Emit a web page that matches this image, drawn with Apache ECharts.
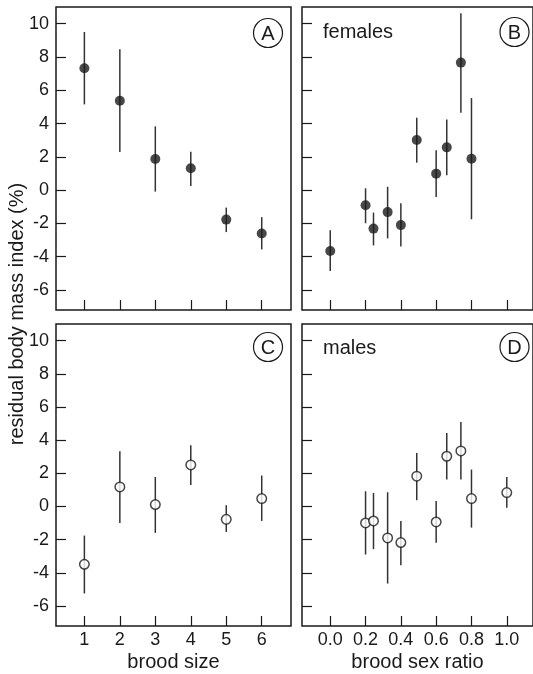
<!DOCTYPE html>
<html>
<head>
<meta charset="utf-8">
<script src="https://cdn.jsdelivr.net/npm/echarts@6/dist/echarts.min.js"></script>
<style>
html,body{margin:0;padding:0;background:#fff;}
#chart{width:533px;height:674px;}
</style>
</head>
<body>
<div id="chart"></div>
<script>
// ---- data ----
const yTicks = [-6, -4, -2, 0, 2, 4, 6, 8, 10];
const broodSizeTicks = [1, 2, 3, 4, 5, 6];
const sexRatioTicks = [0.0, 0.2, 0.4, 0.6, 0.8, 1.0];

const broodSize = [1, 2, 3, 4, 5, 6];
const sizeFemMean = [7.32, 5.37, 1.87, 1.31, -1.77, -2.61];
const sizeFemLo   = [5.15, 2.29, -0.09, 0.25, -2.52, -3.56];
const sizeFemHi   = [9.5, 8.46, 3.83, 2.31, -1.05, -1.62];

const ratioFemX    = [0.0, 0.2, 0.245, 0.325, 0.4, 0.49, 0.6, 0.66, 0.74, 0.8];
const ratioFemMean = [-3.66, -0.91, -2.31, -1.32, -2.1, 3.01, 0.99, 2.57, 7.66, 1.89];
const ratioFemLo   = [-4.86, -1.99, -3.32, -2.9, -3.39, 1.65, -0.41, 0.89, 4.65, -1.75];
const ratioFemHi   = [-2.41, 0.11, -1.35, 0.2, -0.79, 4.35, 2.39, 4.25, 10.62, 5.53];

const sizeMaleMean = [-3.48, 1.18, 0.12, 2.51, -0.77, 0.48];
const sizeMaleLo   = [-5.24, -0.99, -1.59, 1.3, -1.53, -0.87];
const sizeMaleHi   = [-1.75, 3.33, 1.78, 3.69, 0.08, 1.87];

const ratioMaleX    = [0.2, 0.245, 0.325, 0.4, 0.49, 0.6, 0.66, 0.74, 0.8, 1.0];
const ratioMaleMean = [-0.99, -0.87, -1.89, -2.17, 1.83, -0.93, 3.03, 3.35, 0.48, 0.84];
const ratioMaleLo   = [-2.89, -2.57, -4.64, -3.54, 0.38, -2.18, 1.63, 1.63, -1.27, -0.08];
const ratioMaleHi   = [0.92, 0.82, 0.86, -0.87, 3.23, 0.34, 4.43, 5.1, 2.23, 1.78];

// ---- styling ----
const FONT = '"Liberation Sans", Arial, Helvetica, sans-serif';
const INK = '#1a1a1a';

const grids = [
  {left: 56, top: 7, width: 235, height: 303},
  {left: 302, top: 7, width: 232, height: 303},
  {left: 56, top: 324, width: 235, height: 302},
  {left: 302, top: 324, width: 232, height: 302}
].map(g => Object.assign(g, {show: true, borderColor: INK, borderWidth: 1.5, backgroundColor: 'transparent'}));

function xAxis(gi, min, max, ticks, showLabel, name, fmt) {
  return {
    type: 'value', gridIndex: gi, min: min, max: max, position: 'bottom',
    axisLine: {show: false, onZero: false},
    splitLine: {show: false},
    axisTick: {show: true, inside: true, length: 10, customValues: ticks, lineStyle: {color: INK, width: 1.2}},
    axisLabel: {show: showLabel, customValues: ticks, margin: 5, color: INK, fontSize: 18, fontFamily: FONT,
      formatter: fmt},
    name: name, nameLocation: 'middle', nameGap: 26,
    nameTextStyle: {color: INK, fontSize: 20, fontFamily: FONT}
  };
}
function yAxis(gi, showLabel) {
  return {
    type: 'value', gridIndex: gi, min: -7.2, max: 11, position: 'left',
    axisLine: {show: false, onZero: false},
    splitLine: {show: false},
    axisTick: {show: true, inside: true, length: 10, customValues: yTicks, lineStyle: {color: INK, width: 1.2}},
    axisLabel: {show: showLabel, customValues: yTicks, margin: 7, color: INK, fontSize: 18, fontFamily: FONT}
  };
}

function errSeries(idx, xs, lo, hi) {
  return {
    type: 'custom', xAxisIndex: idx, yAxisIndex: idx, z: 2, silent: true,
    data: xs.map((x, i) => [x, lo[i], hi[i]]),
    encode: {x: 0, y: [1, 2]},
    renderItem: function (params, api) {
      const p1 = api.coord([api.value(0), api.value(1)]);
      const p2 = api.coord([api.value(0), api.value(2)]);
      return {type: 'line', shape: {x1: p1[0], y1: p1[1], x2: p2[0], y2: p2[1]},
        style: {stroke: '#333', lineWidth: 1.5}};
    }
  };
}
function ptSeries(idx, xs, ys, open) {
  return {
    type: 'scatter', xAxisIndex: idx, yAxisIndex: idx, z: 5, silent: true,
    symbol: 'circle', symbolSize: open ? 9.5 : 10,
    itemStyle: open ? {color: '#fff', borderColor: INK, borderWidth: 1.5} : {color: INK},
    data: xs.map((x, i) => [x, ys[i]])
  };
}

function panelLabel(cx, cy, letter) {
  return [
    {type: 'circle', shape: {cx: cx, cy: cy, r: 14.5}, style: {fill: 'none', stroke: INK, lineWidth: 1.2}, z: 10},
    {type: 'text', x: cx, y: cy + 1, z: 10,
      style: {text: letter, font: '20px ' + FONT, fill: INK, align: 'center', verticalAlign: 'middle',
        textAlign: 'center', textVerticalAlign: 'middle'}}
  ];
}

const fmtInt = v => String(v);
const fmt1 = v => Number(v).toFixed(1);

const option = {
  animation: false,
  backgroundColor: '#fff',
  grid: grids,
  xAxis: [
    xAxis(0, 0.2, 0.2 + 235 / 35.47, broodSizeTicks, false, '', fmtInt),
    xAxis(1, -0.16, -0.16 + 232 / 177.3, sexRatioTicks, false, '', fmt1),
    xAxis(2, 0.2, 0.2 + 235 / 35.47, broodSizeTicks, true, 'brood size', fmtInt),
    xAxis(3, -0.16, -0.16 + 232 / 177.3, sexRatioTicks, true, 'brood sex ratio', fmt1)
  ],
  yAxis: [yAxis(0, true), yAxis(1, false), yAxis(2, true), yAxis(3, false)],
  series: [
    errSeries(0, broodSize, sizeFemLo, sizeFemHi),
    ptSeries(0, broodSize, sizeFemMean, false),
    errSeries(1, ratioFemX, ratioFemLo, ratioFemHi),
    ptSeries(1, ratioFemX, ratioFemMean, false),
    errSeries(2, broodSize, sizeMaleLo, sizeMaleHi),
    ptSeries(2, broodSize, sizeMaleMean, true),
    errSeries(3, ratioMaleX, ratioMaleLo, ratioMaleHi),
    ptSeries(3, ratioMaleX, ratioMaleMean, true)
  ],
  graphic: [
    {type: 'text', x: 17, y: 314, rotation: Math.PI / 2, z: 10,
      style: {text: 'residual body mass index (%)', font: '20px ' + FONT, fill: INK,
        align: 'center', verticalAlign: 'middle', textAlign: 'center', textVerticalAlign: 'middle'}},
    {type: 'text', x: 323, y: 32, z: 10,
      style: {text: 'females', font: '20px ' + FONT, fill: INK, align: 'left', verticalAlign: 'middle',
        textAlign: 'left', textVerticalAlign: 'middle'}},
    {type: 'text', x: 323, y: 348, z: 10,
      style: {text: 'males', font: '20px ' + FONT, fill: INK, align: 'left', verticalAlign: 'middle',
        textAlign: 'left', textVerticalAlign: 'middle'}}
  ].concat(panelLabel(268, 33, 'A'), panelLabel(514.5, 32, 'B'), panelLabel(268, 347, 'C'), panelLabel(514.5, 347, 'D'))
};

const chart = echarts.init(document.getElementById('chart'), null, {renderer: 'canvas'});
chart.setOption(option);
</script>
</body>
</html>
